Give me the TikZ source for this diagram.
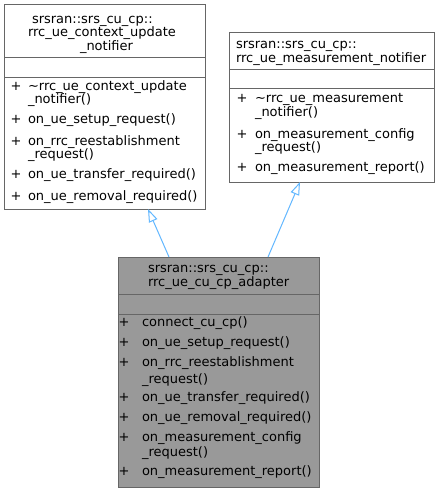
\documentclass[tikz,border=0pt]{standalone}
\usepackage{fontspec}
\setmainfont{DejaVu Sans}
\usetikzlibrary{arrows.meta}
\definecolor{edgeblue}{HTML}{63B8FF}
\definecolor{boxline}{HTML}{666666}
\definecolor{boxfill}{HTML}{999999}
\begin{document}
\begin{tikzpicture}[x=1bp,y=-1bp,
  every node/.style={font=\fontsize{13bp}{15bp}\selectfont, inner sep=0pt, outer sep=0pt},
  classbox/.style={draw=boxline, line width=1bp, fill=white},
  txt/.style={anchor=west, text height=0.76em, text depth=0.13em},
  plus/.style={anchor=center, text height=0.76em, text depth=0.13em},
  divider/.style={draw=boxline, line width=1bp},
  inherit/.style={draw=edgeblue, line width=1bp, -{Triangle[open, length=13bp, width=9bp, fill=white]}}]
\useasboundingbox[fill=white] (0,0) rectangle (440,492);
% boxes
\node[classbox, minimum width=200.5bp, minimum height=204bp] (ctx) at (105.25,107) {};
\node[classbox, minimum width=205bp, minimum height=149bp] (meas) at (331.5,107.5) {};
\node[classbox, fill=boxfill, minimum width=201bp, minimum height=230bp] (adp) at (218.5,372) {};
% dividers
\draw[divider] (ctx.west |- 0,58) -- (ctx.east |- 0,58);
\draw[divider] (ctx.west |- 0,78) -- (ctx.east |- 0,78);
\draw[divider] (meas.west |- 0,70) -- (meas.east |- 0,70);
\draw[divider] (meas.west |- 0,89) -- (meas.east |- 0,89);
\draw[divider] (adp.west |- 0,294) -- (adp.east |- 0,294);
\draw[divider] (adp.west |- 0,314) -- (adp.east |- 0,314);
% left box text
\node[txt] (c1) at (32,20) {srsran::srs\_cu\_cp::};
\node[txt] (c2) at (28,33) {rrc\_ue\_context\_update};
\node[txt] (c3) at (80,47) {\_notifier};
\node[plus] (cp1) at (16,87) {+};
\node[txt] (cm1) at (28,87) {\textasciitilde rrc\_ue\_context\_update};
\node[txt] (cm1b) at (28,100) {\_notifier()};
\node[plus] (cp2) at (16,120) {+};
\node[txt] (cm2) at (28,120) {on\_ue\_setup\_request()};
\node[plus] (cp3) at (16,142) {+};
\node[txt] (cm3) at (28,142) {on\_rrc\_reestablishment};
\node[txt] (cm3b) at (28,155) {\_request()};
\node[plus] (cp4) at (16,175) {+};
\node[txt] (cm4) at (28,175) {on\_ue\_transfer\_required()};
\node[plus] (cp5) at (16,197) {+};
\node[txt] (cm5) at (28,197) {on\_ue\_removal\_required()};
% right box text
\node[txt] (m1) at (236,45) {srsran::srs\_cu\_cp::};
\node[txt] (m2) at (236,59) {rrc\_ue\_measurement\_notifier};
\node[plus] (mp1) at (242,99) {+};
\node[txt] (mm1) at (255,99) {\textasciitilde rrc\_ue\_measurement};
\node[txt] (mm1b) at (255,113) {\_notifier()};
\node[plus] (mp2) at (242,135) {+};
\node[txt] (mm2) at (255,135) {on\_measurement\_config};
\node[txt] (mm2b) at (255,148) {\_request()};
\node[plus] (mp3) at (242,168) {+};
\node[txt] (mm3) at (255,168) {on\_measurement\_report()};
% bottom box text
\node[txt] (a1) at (148,269) {srsran::srs\_cu\_cp::};
\node[txt] (a2) at (148,283) {rrc\_ue\_cu\_cp\_adapter};
\node[plus] (ap1) at (124,323) {+};
\node[txt] (am1) at (142,323) {connect\_cu\_cp()};
\node[plus] (ap2) at (124,343) {+};
\node[txt] (am2) at (142,343) {on\_ue\_setup\_request()};
\node[plus] (ap3) at (124,363) {+};
\node[txt] (am3) at (142,363) {on\_rrc\_reestablishment};
\node[txt] (am3b) at (142,380) {\_request()};
\node[plus] (ap4) at (124,398) {+};
\node[txt] (am4) at (142,398) {on\_ue\_transfer\_required()};
\node[plus] (ap5) at (124,418) {+};
\node[txt] (am5) at (142,418) {on\_ue\_removal\_required()};
\node[plus] (ap6) at (124,438) {+};
\node[txt] (am6) at (142,438) {on\_measurement\_config};
\node[txt] (am6b) at (142,453) {\_request()};
\node[plus] (ap7) at (124,472) {+};
\node[txt] (am7) at (142,472) {on\_measurement\_report()};
% inheritance arrows
\draw[inherit] ([xshift=51bp]adp.north west) -- ([xshift=143bp]ctx.south west);
\draw[inherit] ([xshift=150bp]adp.north west) -- ([xshift=71bp]meas.south west);
\end{tikzpicture}
\end{document}
